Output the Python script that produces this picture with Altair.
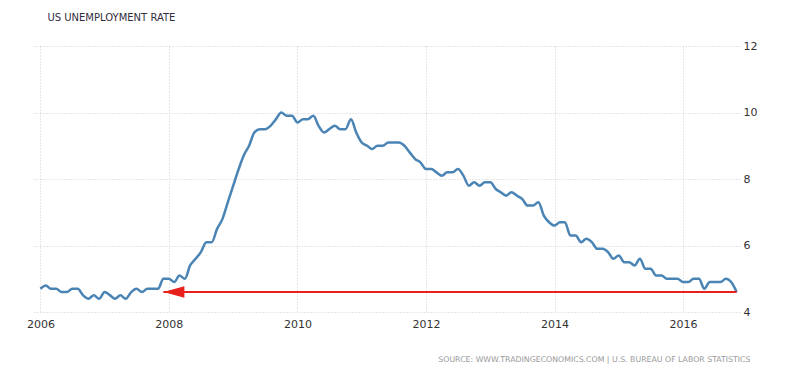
import altair as alt
import pandas as pd

# Monthly US unemployment rate (%), Jan 2006 - Nov 2016
rates_2006 = [4.7, 4.8, 4.7, 4.7, 4.6, 4.6, 4.7, 4.7, 4.5, 4.4, 4.5, 4.4]
rates_2007 = [4.6, 4.5, 4.4, 4.5, 4.4, 4.6, 4.7, 4.6, 4.7, 4.7, 4.7, 5.0]
rates_2008 = [5.0, 4.9, 5.1, 5.0, 5.4, 5.6, 5.8, 6.1, 6.1, 6.5, 6.8, 7.3]
rates_2009 = [7.8, 8.3, 8.7, 9.0, 9.4, 9.5, 9.5, 9.6, 9.8, 10.0, 9.9, 9.9]
rates_2010 = [9.7, 9.8, 9.8, 9.9, 9.6, 9.4, 9.5, 9.6, 9.5, 9.5, 9.8, 9.4]
rates_2011 = [9.1, 9.0, 8.9, 9.0, 9.0, 9.1, 9.1, 9.1, 9.0, 8.8, 8.6, 8.5]
rates_2012 = [8.3, 8.3, 8.2, 8.1, 8.2, 8.2, 8.3, 8.1, 7.8, 7.9, 7.8, 7.9]
rates_2013 = [7.9, 7.7, 7.6, 7.5, 7.6, 7.5, 7.4, 7.2, 7.2, 7.3, 6.9, 6.7]
rates_2014 = [6.6, 6.7, 6.7, 6.3, 6.3, 6.1, 6.2, 6.1, 5.9, 5.9, 5.8, 5.6]
rates_2015 = [5.7, 5.5, 5.5, 5.4, 5.6, 5.3, 5.3, 5.1, 5.1, 5.0, 5.0, 5.0]
rates_2016 = [4.9, 4.9, 5.0, 5.0, 4.7, 4.9, 4.9, 4.9, 5.0, 4.9, 4.6]

rates = (rates_2006 + rates_2007 + rates_2008 + rates_2009 + rates_2010 +
         rates_2011 + rates_2012 + rates_2013 + rates_2014 + rates_2015 + rates_2016)
months = pd.date_range("2006-01-01", periods=len(rates), freq="MS").strftime("%Y-%m-%d").tolist()

year_ticks = ["2006", "2008", "2010", "2012", "2014", "2016"]
y_ticks = [4, 6, 8, 10, 12]

# Arrow annotation: from latest reading back to Dec 2007
arrow_start = ["2016-11-01"]
arrow_end = ["2007-12-01"]
arrow_level = [4.6]

df = pd.DataFrame({"date": months, "rate": rates})
arrow_df = pd.DataFrame({"start": arrow_start, "end": arrow_end, "level": arrow_level})

FONT = "DejaVu Sans"
grid_color = "#cfcfcf"

x_scale = alt.Scale(domain=["2005-11-20", "2016-11-20"])
y_scale = alt.Scale(domain=[4, 12], nice=False, zero=False)

x_enc = alt.X(
    "date:T",
    scale=x_scale,
    axis=alt.Axis(
        values=[{"year": int(y), "month": 1, "date": 1} for y in year_ticks],
        format="%Y",
        labelFont=FONT,
        labelFontSize=11,
        labelColor="#333333",
        labelPadding=6,
        ticks=False,
        domain=False,
        grid=True,
        gridColor=grid_color,
        gridDash=[1, 2],
        title="SOURCE: WWW.TRADINGECONOMICS.COM | U.S.  BUREAU OF LABOR STATISTICS",
        titleFont=FONT,
        titleFontSize=7.8,
        titleFontWeight="normal",
        titleColor="#999999",
        titleAnchor="end",
        titleAlign="right",
        titleBaseline="alphabetic",
        titleX=717,
        titleY=49,
    ),
)

y_enc = alt.Y(
    "rate:Q",
    scale=y_scale,
    axis=alt.Axis(
        orient="right",
        values=y_ticks,
        labelFont=FONT,
        labelFontSize=11,
        labelColor="#333333",
        labelPadding=3,
        ticks=False,
        domain=False,
        grid=True,
        gridColor=grid_color,
        gridDash=[1, 2],
        title=None,
    ),
)

line = alt.Chart(df).mark_line(
    color="#4a84b5", strokeWidth=2.5, interpolate="monotone"
).encode(x=x_enc, y=y_enc)

arrow_line = alt.Chart(arrow_df).mark_rule(color="#e8201c", strokeWidth=2).encode(
    x=alt.X("start:T", scale=x_scale),
    x2="end:T",
    y=alt.Y("level:Q", scale=y_scale),
)

arrow_head = alt.Chart(arrow_df).mark_point(
    shape="M0,0L2,-0.55L2,0.55Z", filled=True, fill="#e8201c", color="#e8201c",
    opacity=1, size=441, strokeWidth=0
).encode(
    x=alt.X("end:T", scale=x_scale),
    y=alt.Y("level:Q", scale=y_scale),
)

chart = alt.layer(line, arrow_line, arrow_head).properties(
    width=707,
    height=266,
    autosize=alt.AutoSizeParams(type="none"),
    padding={"left": 25, "top": 38, "right": 52, "bottom": 53},
    background="white",
    title=alt.TitleParams(
        "US UNEMPLOYMENT RATE",
        anchor="start",
        dx=21,
        offset=17,
        font=FONT,
        fontSize=10,
        fontWeight="normal",
        color="#332c3d",
    ),
).configure_view(stroke=None)

chart.save("out.html", embed_options={"renderer": "svg", "actions": False})
